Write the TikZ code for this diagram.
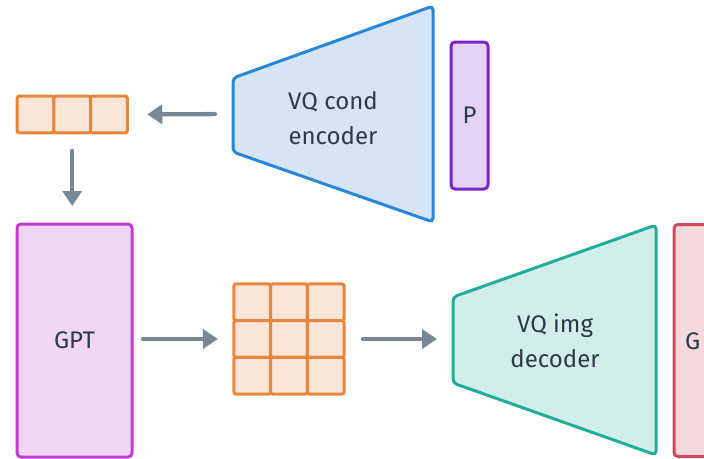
\documentclass[tikz,border=0pt]{standalone}
\usepackage{fontspec}
\setmainfont{Fira Sans}
\usetikzlibrary{positioning,chains,fit,arrows.meta}
\definecolor{tokorange}{RGB}{234,134,58}
\definecolor{tokfill}{RGB}{250,230,216}
\definecolor{encblue}{RGB}{42,135,215}
\definecolor{encfill}{RGB}{213,229,245}
\definecolor{ppurple}{RGB}{125,36,200}
\definecolor{pfill}{RGB}{228,210,244}
\definecolor{gptpink}{RGB}{194,58,212}
\definecolor{gptfill}{RGB}{241,213,244}
\definecolor{decteal}{RGB}{32,174,152}
\definecolor{decfill}{RGB}{210,238,235}
\definecolor{gred}{RGB}{210,74,96}
\definecolor{gfill}{RGB}{247,217,221}
\definecolor{arrowgray}{RGB}{122,136,150}
\definecolor{inkdark}{RGB}{45,58,72}

\begin{document}
\begin{tikzpicture}[x=1pt,y=-1pt,
  font=\fontsize{24}{35}\selectfont,text=inkdark,
  cell/.style={draw=tokorange,fill=tokfill,line width=3pt,rounded corners=2pt,minimum size=36.7pt,inner sep=0pt,outer sep=0pt},
  block/.style={line width=3pt,rounded corners=4pt,inner sep=0pt,outer sep=0pt},
  flow/.style={draw=arrowgray,line width=4.3pt,line cap=round,-{Triangle[length=15pt,width=19pt]}},
  every fit/.style={inner sep=0pt,outer sep=0pt}
]
\useasboundingbox (0,0) rectangle (704,458);
\clip (0,0) rectangle (704,458);

% the condition tokens
\begin{scope}[start chain=going right,node distance=0pt]
  \node[cell,on chain] (t1) at (35.5,114.5) {};
  \node[cell,on chain] (t2) {};
  \node[cell,on chain] (t3) {};
\end{scope}
\node[fit=(t1) (t3)] (tok) {};

% the cond encoder
\coordinate (enc-tl) at (233,78);
\coordinate (enc-tr) at (433,6);
\coordinate (enc-br) at (433,222);
\coordinate (enc-bl) at (233,152);
\draw[block,draw=encblue,fill=encfill] (enc-tl) -- (enc-tr) -- (enc-br) -- (enc-bl) -- cycle;
\node[fit=(enc-tl) (enc-tr) (enc-br) (enc-bl)] (enc) {};
\node[align=center] (enctxt) at (333,118) {VQ cond\\encoder};

\node[block,draw=ppurple,fill=pfill,minimum width=37pt,minimum height=147pt] (pbox) at (469.5,115.5) {P};

% the GPT
\node[block,draw=gptpink,fill=gptfill,minimum width=115pt,minimum height=233pt] (gpt) at (74.5,340.5) {GPT};

% the image tokens
\foreach \r in {0,1,2}
  \foreach \c in {0,1,2}
    \node[cell] (g\r\c) at ({252.3+36.7*\c},{302.3+36.7*\r}) {};
\node[fit=(g00) (g22)] (grid) {};

% the img decoder
\coordinate (dec-tl) at (453,297);
\coordinate (dec-tr) at (656,225);
\coordinate (dec-br) at (656,455);
\coordinate (dec-bl) at (453,383);
\draw[block,draw=decteal,fill=decfill] (dec-tl) -- (dec-tr) -- (dec-br) -- (dec-bl) -- cycle;
\node[fit=(dec-tl) (dec-tr) (dec-br) (dec-bl)] (dec) {};
\node[align=center] (dectxt) at (555,341) {VQ img\\decoder};

\node[block,draw=gred,fill=gfill,minimum width=115pt,minimum height=232pt] (gbox) at (731.5,340.5) {};
\node[anchor=west,inner sep=0pt] (gtxt) at (685,341) {G};

% the arrows
\draw[flow,shorten <=18pt,shorten >=20pt] (enc.west) -- (tok.east);
\draw[flow,shorten <=18pt,shorten >=18pt] (tok.south) -- (tok.south |- gpt.north);
\draw[flow,shorten <=11pt,shorten >=16pt] (gpt.east |- grid.west) -- (grid.west);
\draw[flow,shorten <=19pt,shorten >=16pt] (grid.east) -- (grid.east -| dec.west);
\end{tikzpicture}
\end{document}
